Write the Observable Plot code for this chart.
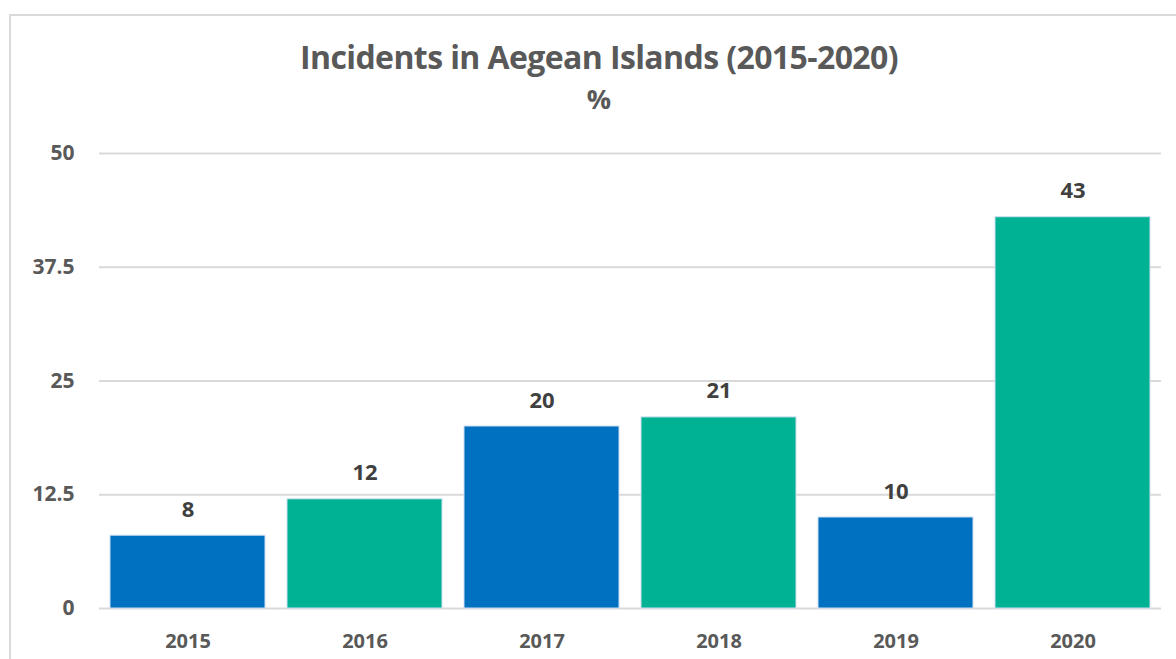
<!DOCTYPE html>
<html>
<head>
<meta charset="utf-8">
<script src="https://cdn.jsdelivr.net/npm/d3@7"></script>
<script src="https://cdn.jsdelivr.net/npm/@observablehq/plot@0.6"></script>
<style>
  html, body { margin: 0; padding: 0; background: #fff; overflow: hidden; }
  body { width: 1176px; height: 659px; position: relative; font-family: "Open Sans", sans-serif; }
  #frame { position: absolute; left: 9px; top: 14px; width: 1200px; height: 700px; border: 2px solid #d9d9d9; box-sizing: border-box; }
  #header { position: relative; height: 130px; width: 1176px; }
  #title { position: absolute; left: 9px; width: 1180px; top: 37px; text-align: center; font-weight: 700; font-size: 32px; line-height: 40px; color: #595959; letter-spacing: -0.6px; }
  #subtitle { position: absolute; left: 9px; width: 1180px; top: 82px; text-align: center; font-weight: 700; font-size: 27px; line-height: 34px; color: #595959; }
  #chart { position: relative; }
</style>
</head>
<body>
<div id="frame"></div>
<div id="header">
  <div id="title">Incidents in Aegean Islands (2015-2020)</div>
  <div id="subtitle">%</div>
</div>
<div id="chart"></div>
<script>
const years = ["2015", "2016", "2017", "2018", "2019", "2020"];
const values = [8, 12, 20, 21, 10, 43];
const barColors = ["#0070C0", "#00B294", "#0070C0", "#00B294", "#0070C0", "#00B294"];
const yTicks = [0, 12.5, 25, 37.5, 50];

const data = years.map((y, i) => ({year: y, value: values[i], color: barColors[i]}));

const plot = Plot.plot({
  width: 1176,
  height: 529,
  marginTop: 23,
  marginBottom: 51,
  marginLeft: 99,
  marginRight: 15,
  style: {fontFamily: "Open Sans, sans-serif", background: "transparent", overflow: "visible"},
  x: {domain: years, paddingInner: 0.125, paddingOuter: 0.0625, label: null},
  y: {domain: [0, 50], ticks: yTicks, label: null},
  marks: [
    Plot.gridY(yTicks, {stroke: "#d9d9d9", strokeOpacity: 1, strokeWidth: 2}),
    Plot.barY(data, {x: "year", y: "value", fill: "color", stroke: "#d0def0", strokeWidth: 1}),
    Plot.text(data, {x: "year", y: "value", text: d => String(d.value), dy: -19, lineAnchor: "bottom", fontSize: 22, fontWeight: 700, fill: "#404040"}),
    Plot.axisY(yTicks, {tickSize: 0, tickPadding: 25, fontSize: 21, fontWeight: 700, fill: "#595959", tickFormat: d => String(d), label: null}),
    Plot.axisX({tickSize: 0, tickPadding: 25, fontSize: 20, fontWeight: 700, fill: "#595959", label: null})
  ]
});
document.getElementById("chart").appendChild(plot);
</script>
</body>
</html>
